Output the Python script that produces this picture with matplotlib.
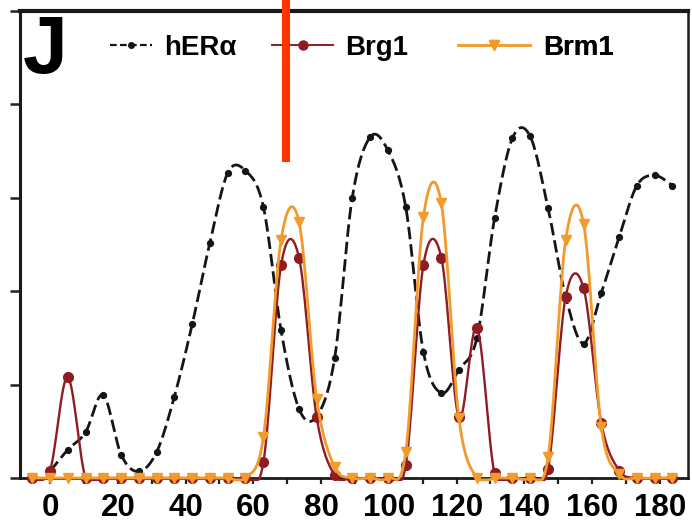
import numpy as np
import matplotlib
matplotlib.use("Agg")
import matplotlib.pyplot as plt
from matplotlib.lines import Line2D

# ---------------- data ----------------
positions = [-5.2, 0, 5.2, 10.5, 15.7, 21, 26.2, 31.5, 36.7, 42, 47.2, 52.5,
             57.7, 63, 68.2, 73.5, 78.7, 84, 89.2, 94.5, 99.7, 105, 110.2,
             115.5, 120.7, 126, 131.2, 136.5, 141.7, 147, 152.2, 157.5, 162.7,
             168, 173.2, 178.5, 183.7]

her_alpha = [0.07, 0.30, 0.49, 0.89, 0.25, 0.07, 0.28, 0.87, 1.65, 2.52, 3.27,
             3.29, 2.90, 1.58, 0.74, 0.66, 1.28, 3.00, 3.65, 3.51, 2.90, 1.35,
             0.91, 1.16, 1.50, 2.78, 3.64, 3.66, 2.89, 1.94, 1.44, 1.98, 2.58,
             3.13, 3.24, 3.13]

brg1 = [0, 0.08, 1.08, 0, 0, 0, 0, 0, 0, 0, 0, 0, 0, 0.17, 2.28, 2.36, 0.65,
        0.03, 0, 0, 0, 0.14, 2.28, 2.36, 0.65, 1.61, 0.05, 0, 0, 0.10, 1.94,
        2.03, 0.59, 0.08, 0, 0, 0]

brm1 = [0, 0, 0, 0, 0, 0, 0, 0, 0, 0, 0, 0, 0, 0.44, 2.55, 2.74, 0.85, 0.12,
        0, 0, 0, 0.28, 2.79, 2.94, 0.64, 0, 0, 0, 0, 0.22, 2.55, 2.72, 0.55,
        0.04, 0, 0, 0]

tick_values = [0, 20, 40, 60, 80, 100, 120, 140, 160, 180]
series_labels = ["hERα", "Brg1", "Brm1"]
colors = ["#151515", "#8E1C22", "#F29A2C"]


def smooth(x, y, n=16):
    """Catmull-Rom spline through the points (smoothed line rendering)."""
    x = np.asarray(x, float)
    y = np.asarray(y, float)
    xp = np.concatenate([[x[0]], x, [x[-1]]])
    yp = np.concatenate([[y[0]], y, [y[-1]]])
    t = np.linspace(0, 1, n, endpoint=False)
    ox, oy = [], []
    for i in range(1, len(xp) - 2):
        for arr, out in ((xp, ox), (yp, oy)):
            p0, p1, p2, p3 = arr[i - 1], arr[i], arr[i + 1], arr[i + 2]
            out.append(0.5 * (2 * p1 + (-p0 + p2) * t
                              + (2 * p0 - 5 * p1 + 4 * p2 - p3) * t ** 2
                              + (-p0 + 3 * p1 - 3 * p2 + p3) * t ** 3))
    ox = np.concatenate(ox + [[x[-1]]])
    oy = np.concatenate(oy + [[y[-1]]])
    return ox, oy


plt.rcParams["font.family"] = ["Liberation Sans", "DejaVu Sans"]
plt.rcParams["font.weight"] = "bold"

fig = plt.figure(figsize=(6.92, 5.28), dpi=100)
ax = fig.add_axes([20 / 692, 1 - 478 / 528, 668 / 692, 467 / 528])

# hERα
hx, hy = smooth(positions[1:], her_alpha)
ax.plot(hx, hy, color=colors[0], lw=2.0, dashes=(4.5, 1.8), zorder=3,
        clip_on=False)
ax.plot(positions[1:], her_alpha, ls="none", marker="o", ms=4.2,
        color=colors[0], zorder=3.1, clip_on=False)

# Brg1
bx, by = smooth(positions, brg1)
ax.plot(bx, np.maximum(by, -0.02), color=colors[1], lw=1.7, zorder=4,
        clip_on=False)
ax.plot(positions, brg1, ls="none", marker="o", ms=7, color=colors[1],
        zorder=4.1, clip_on=False)

# Brm1
mx, my = smooth(positions, brm1)
ax.plot(mx, np.maximum(my, -0.02), color=colors[2], lw=2.0, zorder=5,
        clip_on=False)
ax.plot(positions, brm1, ls="none", marker="v", ms=7, color=colors[2],
        zorder=5.1, clip_on=False)

ax.set_xlim(-8.85, 188.3)
ax.set_ylim(0, 5)

ax.set_xticks(tick_values)
ax.set_xticklabels([str(v) for v in tick_values], fontsize=22.5,
                   fontweight="bold")
ax.set_xticks([10, 30, 50, 70, 90, 110, 130, 150, 170], minor=True)
ax.tick_params(axis="x", which="both", direction="out", length=4, width=1.6,
               pad=7, colors="#222222", labelcolor="black")
ax.set_yticks([0, 1, 2, 3, 4, 5])
ax.set_yticklabels([])
ax.tick_params(axis="y", direction="out", length=7, width=1.8,
               colors="#222222")

for side, lw in (("top", 3.0), ("left", 2.2), ("right", 1.8), ("bottom", 2.0)):
    ax.spines[side].set_linewidth(lw)
    ax.spines[side].set_color("#1a1a1a")

# panel letter
ax.text(0.038, 0.912, "J", transform=ax.transAxes, fontsize=58,
        fontweight="bold", ha="center", va="center", color="black")

# legend entries (three single-entry legends, placed as in the picture)
handles = [
    Line2D([], [], color=colors[0], lw=1.6, dashes=(3, 1.5), marker="o",
           ms=4),
    Line2D([], [], color=colors[1], lw=1.4, marker="o", ms=6.5),
    Line2D([], [], color=colors[2], lw=1.8, marker="v", ms=6.5),
]
anchors = [(110 - 20) / 668, (272 - 20) / 668, (458 - 20) / 668]
hlens = [1.5, 2.2, 2.6]
for h, lab, xa, hl in zip(handles, series_labels, anchors, hlens):
    leg = ax.legend([h], [lab], loc="center left",
                    bbox_to_anchor=(xa, (478 - 48) / 467),
                    frameon=False, handlelength=hl,
                    handletextpad=0.45, borderpad=0, borderaxespad=0,
                    prop={"weight": "bold", "size": 20})
    ax.add_artist(leg)

# red vertical annotation line (figure overlay)
fig.add_artist(Line2D([286 / 692, 286 / 692], [1.0, 1 - 162 / 528],
                      transform=fig.transFigure, color="#FF3500", lw=5.8,
                      solid_capstyle="butt", zorder=10))

fig.savefig("out.png", dpi=100)
